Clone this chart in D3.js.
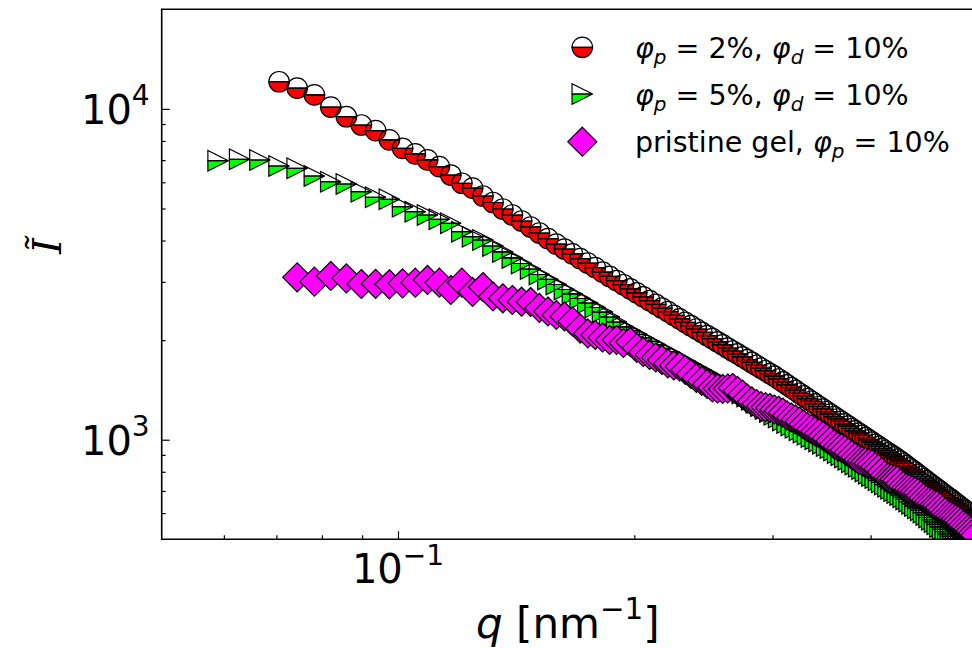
<!DOCTYPE html>
<html>
<head>
<meta charset="utf-8">
<script src="https://cdn.jsdelivr.net/npm/d3@7/dist/d3.min.js"></script>
<style>
  html, body { margin: 0; padding: 0; background: #fff; }
  svg { display: block; font-family: "DejaVu Sans", sans-serif; }
</style>
</head>
<body>
<svg id="chart" width="972" height="648"></svg>
<script>
// Scattering vector q [nm^-1], shared by all three measurements
const qGrid = [
  0.0590, 0.06285, 0.0667, 0.07055, 0.0744, 0.07825, 0.0821, 0.08595, 0.0898, 0.09365,
  0.0975, 0.10135, 0.1052, 0.10905, 0.1129, 0.11675, 0.1206, 0.12445, 0.1283, 0.13215,
  0.1360, 0.13985, 0.1437, 0.14755, 0.1514, 0.15525, 0.1591, 0.16295, 0.1668, 0.17065,
  0.1745, 0.17835, 0.1822, 0.18605, 0.1899, 0.19375, 0.1976, 0.20145, 0.2053, 0.20915,
  0.2130, 0.21685, 0.2207, 0.22455, 0.2284, 0.23225, 0.2361, 0.23995, 0.2438, 0.24765,
  0.2515, 0.25535, 0.2592, 0.26305, 0.2669, 0.27075, 0.2746, 0.27845, 0.2823, 0.28615,
  0.2900, 0.29385, 0.2977, 0.30155, 0.3054, 0.30925, 0.3131, 0.31695, 0.3208, 0.32465,
  0.3285, 0.33235, 0.3362, 0.34005, 0.3439, 0.34775, 0.3516, 0.35545, 0.3593, 0.36315,
  0.3670, 0.37085, 0.3747, 0.37855, 0.3824, 0.38625, 0.3901, 0.39395, 0.3978, 0.40165,
  0.4055, 0.40935, 0.4132, 0.41705, 0.4209, 0.42475, 0.4286, 0.43245, 0.4363, 0.44015,
  0.4440, 0.44785, 0.4517, 0.45555, 0.4594, 0.46325, 0.4671, 0.47095, 0.4748, 0.47865,
  0.4825, 0.48635, 0.4902, 0.49405, 0.4979, 0.50175, 0.5056, 0.50945, 0.5133, 0.51715,
  0.5210, 0.52485, 0.5287, 0.53255, 0.5364, 0.54025, 0.5441
];

// Normalised intensity, phi_p = 2 %, phi_d = 10 %
const intensityP2 = [
  null, null, null, 12080, 11550, 11020, 10120, 9470, 8940, 8600,
  8060, 7600, 7310, 7010, 6690, 6310, 5960, 5760, 5454, 5213,
  4982, 4778, 4583, 4396, 4216, 4055, 3903, 3770, 3646, 3528,
  3417, 3312, 3212, 3115, 3025, 2940, 2857, 2779, 2704, 2634,
  2565, 2500, 2438, 2377, 2320, 2264, 2211, 2161, 2112, 2065,
  2020, 1977, 1935, 1893, 1854, 1817, 1781, 1746, 1712, 1679,
  1646, 1616, 1585, 1556, 1526, 1495, 1465, 1437, 1409, 1382,
  1356, 1331, 1307, 1283, 1260, 1238, 1216, 1195, 1175, 1155,
  1136, 1117, 1099, 1081, 1064, 1047, 1030, 1015, 999, 983,
  968, 955, 940, 926, 913, 900, 887, 874, 862, 849,
  835, 822, 810, 798, 786, 774, 762, 751, 740, 729,
  719, 709, 699, 689, 679, 670, 661, 652, 643, 634,
  626, 617, 609, 601, 592, 583, 575
];

// Normalised intensity, phi_p = 5 %, phi_d = 10 %
const intensityP5 = [
  6973, 7041, 7007, 6720, 6614, 6268, 6025, 5929, 5620, 5405,
  5331, 5063, 4890, 4778, 4638, 4511, 4254, 4108, 4015, 3851,
  3694, 3543, 3409, 3281, 3158, 3051, 2946, 2845, 2758, 2672,
  2590, 2510, 2432, 2349, 2269, 2193, 2137, 2083, 2031, 1982,
  1936, 1890, 1847, 1805, 1766, 1727, 1690, 1654, 1620, 1588,
  1555, 1525, 1494, 1465, 1438, 1411, 1380, 1350, 1321, 1293,
  1265, 1239, 1213, 1189, 1166, 1142, 1123, 1104, 1086, 1068,
  1051, 1035, 1018, 1003, 987, 972, 957, 943, 927, 912,
  897, 883, 869, 855, 841, 828, 815, 802, 789, 777,
  766, 754, 743, 732, 721, 711, 700, 690, 680, 670,
  660, 650, 640, 630, 621, 612, 602, 592, 582, 573,
  564, 555, 545, 536, 527, 519, 510, 502, 494, 487,
  479, 472, 464, 457, 450, 443, 436
];

// Normalised intensity, pristine gel, phi_p = 10 %
const intensityPristine = [
  null, null, null, null, 3097, 3004, 3125, 3075, 2956, 2960,
  2950, 2970, 2983, 3040, 2983, 2835, 2983, 2796, 2895, 2709,
  2676, 2644, 2613, 2608, 2502, 2441, 2382, 2357, 2277, 2168,
  2095, 2073, 2037, 2002, 2002, 1960, 1974, 1893, 1841, 1803,
  1772, 1742, 1700, 1676, 1665, 1625, 1580, 1537, 1505, 1474,
  1438, 1428, 1423, 1428, 1433, 1404, 1370, 1332, 1305, 1282,
  1264, 1255, 1247, 1234, 1223, 1208, 1185, 1167, 1151, 1135,
  1112, 1092, 1076, 1060, 1046, 1028, 1010, 991, 969, 954,
  944, 931, 915, 899, 885, 871, 864, 858, 850, 842,
  828, 816, 799, 780, 769, 763, 758, 753, 737, 725,
  715, 710, 703, 697, 690, 678, 667, 657, 650, 644,
  637, 633, 624, 613, 603, 594, 588, 582, 576, 570,
  562, 552, 545, 537, 530, 522, 515
];

// Axis ticks
const xMajorTicks = [0.1];
const xMinorTicks = [0.06, 0.07, 0.08, 0.09, 0.2, 0.3, 0.4, 0.5];
const yMajorTicks = [1000, 10000];
const yMinorTicks = [600, 700, 800, 900, 2000, 3000, 4000, 5000, 6000, 7000, 8000, 9000];
const xTickExponents = ["\u22121"];
const yTickExponents = ["3", "4"];

// Legend entries: rich text segments (it = italic, sub = subscript)
const legendLabels = [
  [{t: "\u03C6", it: true}, {t: "p", it: true, sub: true}, {t: " = 2%, "}, {t: "\u03C6", it: true}, {t: "d", it: true, sub: true}, {t: " = 10%"}],
  [{t: "\u03C6", it: true}, {t: "p", it: true, sub: true}, {t: " = 5%, "}, {t: "\u03C6", it: true}, {t: "d", it: true, sub: true}, {t: " = 10%"}],
  [{t: "pristine gel, "}, {t: "\u03C6", it: true}, {t: "p", it: true, sub: true}, {t: " = 10%"}]
];

const plot = {left: 161.7, right: 974, top: 9.3, bottom: 539.3};

const x = d3.scaleLog().domain([0.05, 0.5417]).range([plot.left, plot.right]);
const y = d3.scaleLog().domain([500, 20000]).range([plot.bottom, plot.top]);

const svg = d3.select("#chart");

svg.append("defs").append("clipPath").attr("id", "plot-clip")
  .append("rect")
  .attr("x", plot.left).attr("y", plot.top)
  .attr("width", plot.right - plot.left).attr("height", plot.bottom - plot.top);

// Marker geometry (marker size in px)
const MS = 20.5;
const R = MS / 2;
const H = MS / Math.SQRT2;
const shapes = {
  circleMain: `M${-R},0A${R},${R} 0 0 0 ${R},0Z`,
  circleAlt: `M${-R},0A${R},${R} 0 0 1 ${R},0Z`,
  triMain: `M${-R},0L${R},0L${-R},${R}Z`,
  triAlt: `M${-R},0L${R},0L${-R},${-R}Z`,
  diamond: `M0,${-H}L${H},0L0,${H}L${-H},0Z`
};

const series = [
  {values: intensityP2, color: "#ff0000", main: shapes.circleMain, alt: shapes.circleAlt},
  {values: intensityP5, color: "#00ff00", main: shapes.triMain, alt: shapes.triAlt},
  {values: intensityPristine, color: "#ff00ff", main: shapes.diamond, alt: null}
];

const markerLayer = svg.append("g").attr("clip-path", "url(#plot-clip)");

series.forEach((s, k) => {
  const pts = qGrid.map((q, i) => ({q, v: s.values[i]})).filter(d => d.v != null);
  const g = markerLayer.append("g").attr("class", "series-" + k);
  // filled half (or full marker) for every point first
  g.selectAll("path.main").data(pts).join("path")
    .attr("class", "main")
    .attr("d", s.main)
    .attr("transform", d => `translate(${x(d.q)},${y(d.v)})`)
    .attr("fill", s.color)
    .attr("stroke", "#000")
    .attr("stroke-width", 1.2)
    .attr("stroke-linejoin", "miter");
  // then the unfilled half outlines
  if (s.alt) {
    g.selectAll("path.alt").data(pts).join("path")
      .attr("class", "alt")
      .attr("d", s.alt)
      .attr("transform", d => `translate(${x(d.q)},${y(d.v)})`)
      .attr("fill", "none")
      .attr("stroke", "#000")
      .attr("stroke-width", 1.2);
  }
});

// Ticks (pointing inward)
const axisColor = "#000";
function drawTicks(axisGen, cls, transform) {
  const g = svg.append("g").attr("class", cls).attr("transform", transform).call(axisGen);
  g.select(".domain").remove();
  g.selectAll(".tick line").attr("stroke", axisColor).attr("stroke-width", 1.2);
  g.selectAll(".tick text").remove();
}
drawTicks(d3.axisBottom(x).tickValues(xMajorTicks).tickSizeInner(-8).tickSizeOuter(0), "x-major", `translate(0,${plot.bottom})`);
drawTicks(d3.axisBottom(x).tickValues(xMinorTicks).tickSizeInner(-4).tickSizeOuter(0), "x-minor", `translate(0,${plot.bottom})`);
drawTicks(d3.axisLeft(y).tickValues(yMajorTicks).tickSizeInner(-8).tickSizeOuter(0), "y-major", `translate(${plot.left},0)`);
drawTicks(d3.axisLeft(y).tickValues(yMinorTicks).tickSizeInner(-4).tickSizeOuter(0), "y-minor", `translate(${plot.left},0)`);

// Spines
const spines = svg.append("g").attr("stroke", axisColor).attr("stroke-width", 1.6).attr("fill", "none");
spines.append("path").attr("d", `M${plot.left},${plot.top}H${plot.right}V${plot.bottom}H${plot.left}Z`);

// Power-of-ten tick labels
function powerLabel(sel, base, exp, size) {
  sel.append("tspan").text(base);
  sel.append("tspan").attr("font-size", size * 0.7).attr("dy", -size * 0.46).text(exp);
}
const tickFont = 40;
yMajorTicks.forEach((v, i) => {
  const t = svg.append("text")
    .attr("x", plot.left - 12).attr("y", y(v) + 15)
    .attr("text-anchor", "end").attr("font-size", tickFont).attr("fill", "#000");
  powerLabel(t, "10", yTickExponents[i], tickFont);
});
xMajorTicks.forEach((v, i) => {
  const t = svg.append("text")
    .attr("x", x(v)).attr("y", plot.bottom + 44)
    .attr("text-anchor", "middle").attr("font-size", tickFont).attr("fill", "#000");
  powerLabel(t, "10", xTickExponents[i], tickFont);
});

// Axis titles
const labelFont = 42;
const xl = svg.append("text")
  .attr("x", (plot.left + plot.right) / 2).attr("y", 638)
  .attr("text-anchor", "middle").attr("font-size", labelFont).attr("fill", "#000");
xl.append("tspan").attr("font-style", "italic").text("q");
xl.append("tspan").text(" [nm");
xl.append("tspan").attr("font-size", labelFont * 0.7).attr("dy", -labelFont * 0.46).text("\u22121");
xl.append("tspan").attr("dy", labelFont * 0.46).text("]");

svg.append("text")
  .attr("transform", "translate(61,246) rotate(-90)")
  .attr("text-anchor", "middle")
  .attr("font-family", "'DejaVu Serif', serif")
  .attr("font-style", "italic")
  .attr("font-size", 40)
  .attr("fill", "#000")
  .text("\u0128");

// Legend
const legendFont = 28.5;
const legendX = 582.3;
const legendRows = [47.3, 94, 141.7];
const legend = svg.append("g");
series.forEach((s, k) => {
  const cy = legendRows[k];
  const g = legend.append("g").attr("transform", `translate(${legendX},${cy})`);
  g.append("path").attr("d", s.main).attr("fill", s.color).attr("stroke", "#000").attr("stroke-width", 1.2);
  if (s.alt) g.append("path").attr("d", s.alt).attr("fill", "none").attr("stroke", "#000").attr("stroke-width", 1.2);
  const t = legend.append("text")
    .attr("x", 635).attr("y", cy + 10.5)
    .attr("font-size", legendFont).attr("fill", "#000");
  let shifted = 0;
  legendLabels[k].forEach(seg => {
    const ts = t.append("tspan").text(seg.t);
    if (seg.it) ts.attr("font-style", "italic");
    const want = seg.sub ? legendFont * 0.22 : 0;
    if (want !== shifted) { ts.attr("dy", want - shifted); shifted = want; }
    if (seg.sub) ts.attr("font-size", legendFont * 0.7);
  });
});
</script>
</body>
</html>
